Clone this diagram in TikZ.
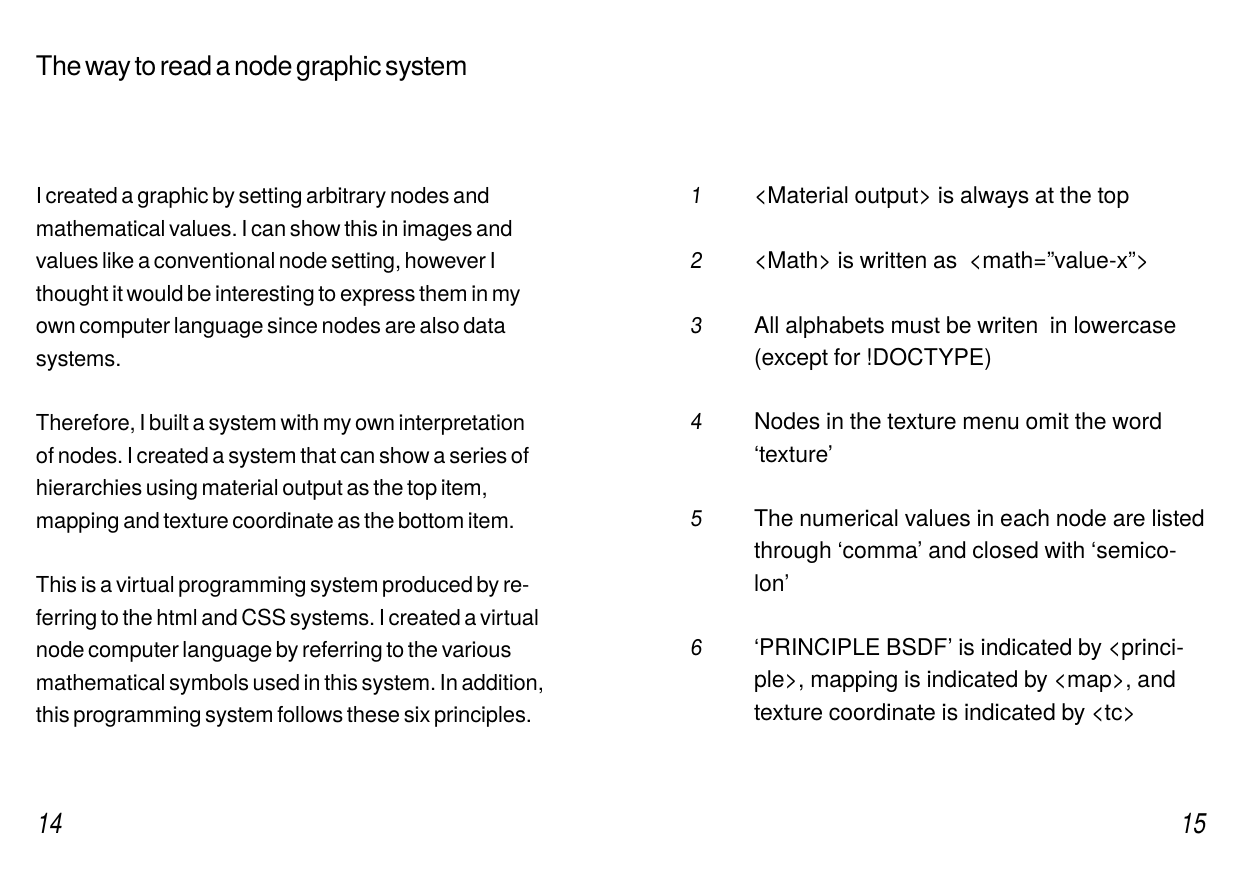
\documentclass[tikz,border=0pt]{standalone}
\usepackage{fontspec}
\setmainfont{TeX Gyre Heros}
\newfontfamily\titlefont[WordSpace=0.5,LetterSpace=-1.8]{TeX Gyre Heros}
\newfontfamily\leftfont[WordSpace=0.6,LetterSpace=-0.5]{TeX Gyre Heros}
\newfontfamily\rightfont[WordSpace=0.9]{TeX Gyre Heros}
\newfontfamily\numfont[FakeStretch=0.92,FakeSlant=0.12]{TeX Gyre Heros}
\newfontfamily\pagefont[FakeStretch=0.8,FakeSlant=0.18]{TeX Gyre Heros}
\frenchspacing
\tikzset{
  txt/.style={anchor=base west,inner sep=0pt,outer sep=0pt,text=black},
  ttl/.style={txt,font=\titlefont\fontsize{20.25pt}{24pt}\selectfont},
  lft/.style={txt,font=\leftfont\fontsize{16.5pt}{24pt}\selectfont},
  rgt/.style={txt,font=\rightfont\fontsize{17.25pt}{24pt}\selectfont},
  num/.style={txt,font=\numfont\fontsize{17pt}{24pt}\selectfont},
  pg/.style={txt,font=\pagefont\fontsize{21.4pt}{30pt}\selectfont},
}
\begin{document}
\begin{tikzpicture}[x=0.75pt,y=-0.75pt]
\fill[white] (0,0) rectangle (1240,874);
\useasboundingbox (0,0) rectangle (1240,874);
% title
\node[ttl] (title) at (36,76) {The way to read a node graphic system};
% left column
\node[lft] (a1) at (36,204.0) {I created a graphic by setting arbitrary nodes and};
\node[lft] (a2) at (36,236.4) {mathematical values. I can show this in images and};
\node[lft] (a3) at (36,268.8) {values like a conventional node setting, however I};
\node[lft] (a4) at (36,301.2) {thought it would be interesting to express them in my};
\node[lft] (a5) at (36,333.6) {own computer language since nodes are also data};
\node[lft] (a6) at (36,366.0) {systems.};
\node[lft] (b1) at (36,430.8) {Therefore, I built a system with my own interpretation};
\node[lft] (b2) at (36,463.2) {of nodes. I created a system that can show a series of};
\node[lft] (b3) at (36,495.6) {hierarchies using material output as the top item,};
\node[lft] (b4) at (36,528.0) {mapping and texture coordinate as the bottom item.};
\node[lft] (c1) at (36,592.8) {This is a virtual programming system produced by re-};
\node[lft] (c2) at (36,625.2) {ferring to the html and CSS systems. I created a virtual};
\node[lft] (c3) at (36,657.6) {node computer language by referring to the various};
\node[lft] (c4) at (36,690.0) {mathematical symbols used in this system. In addition,};
\node[lft] (c5) at (36,722.4) {this programming system follows these six principles.};
% right column numbers
\node[num] (n1) at (690,204.0) {1};
\node[num] (n2) at (690,268.5) {2};
\node[num] (n3) at (690,333.0) {3};
\node[num] (n4) at (690,429.75) {4};
\node[num] (n5) at (690,526.5) {5};
\node[num] (n6) at (690,655.5) {6};
% right column text
\node[rgt] (p1) at (754,204.0) {<Material output> is always at the top};
\node[rgt] (p2) at (754,268.5) {<Math> is written as \ <math=”value-x”>};
\node[rgt] (p3a) at (754,333.0) {All alphabets must be writen \ in lowercase};
\node[rgt] (p3b) at (754,365.25) {(except for !DOCTYPE)};
\node[rgt] (p4a) at (754,429.75) {Nodes in the texture menu omit the word};
\node[rgt] (p4b) at (754,462.0) {‘texture’};
\node[rgt] (p5a) at (754,526.5) {The numerical values in each node are listed};
\node[rgt] (p5b) at (754,558.75) {through ‘comma’ and closed with ‘semico-};
\node[rgt] (p5c) at (754,591.0) {lon’};
\node[rgt] (p6a) at (754,655.5) {‘PRINCIPLE BSDF’ is indicated by <princi-};
\node[rgt] (p6b) at (754,687.75) {ple>, mapping is indicated by <map>, and};
\node[rgt] (p6c) at (754,720.0) {texture coordinate is indicated by <tc>};
% page numbers
\node[pg] (pg14) at (36,833) {14};
\node[pg,anchor=base east] (pg15) at (1205,833) {15};
\end{tikzpicture}
\end{document}
